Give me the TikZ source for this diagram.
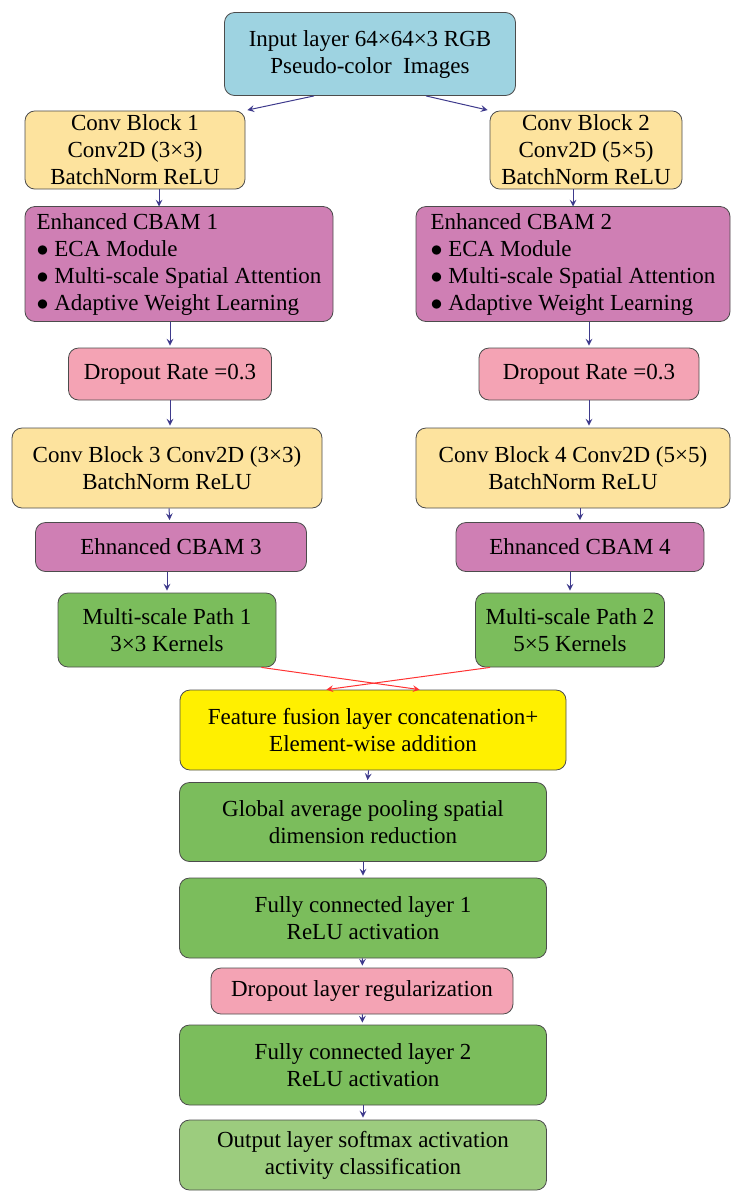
\documentclass[tikz,border=0pt]{standalone}
\usepackage{fontspec}
\setmainfont{Liberation Serif}
\usetikzlibrary{positioning}
\definecolor{cblue}{HTML}{9ED3E1}
\definecolor{cyel}{HTML}{FDE39E}
\definecolor{cpur}{HTML}{CF7FB4}
\definecolor{cpink}{HTML}{F4A3B4}
\definecolor{cgreen}{HTML}{7BBD5C}
\definecolor{cfuse}{HTML}{FFF000}
\definecolor{cout}{HTML}{9CCC7E}
\definecolor{carrow}{HTML}{3E3A8C}
\tikzset{
  box/.style={draw=black!70,fill=#1,rounded corners=5pt,align=center,inner sep=2pt,
    font=\fontsize{11.5}{13.5}\selectfont},
  arr/.style={->,>=stealth,draw=carrow,line width=0.5pt,shorten >=1pt},
  redarr/.style={->,>=stealth,draw=red!80,line width=0.5pt},
}
\begin{document}
\begin{tikzpicture}[x=0.5pt,y=-0.5pt]
\useasboundingbox (0,0) rectangle (744,1200);
% top
\node[box=cblue,minimum width=145.5pt,minimum height=41.5pt] (in) at (370,54) {Input layer 64×64×3 RGB\\Pseudo-color\ \ Images};
% left branch
\node[box=cyel,minimum width=110pt,minimum height=38pt] (cb1) at (135,150) {Conv Block 1\\Conv2D (3×3)\\BatchNorm ReLU};
\node[box=cpur,minimum width=154pt,minimum height=57.5pt,align=left] (eca1) at (179,264) {Enhanced CBAM 1\\$\bullet$ ECA Module\\$\bullet$ Multi-scale Spatial Attention\\$\bullet$ Adaptive Weight Learning};
\node[box=cpink,minimum width=101.5pt,minimum height=26pt] (dp1) at (170,374) {Dropout Rate =0.3};
\node[box=cyel,minimum width=155pt,minimum height=40pt] (cb3) at (167,468) {Conv Block 3 Conv2D (3×3)\\BatchNorm ReLU};
\node[box=cpur,minimum width=135.5pt,minimum height=24.5pt] (eca3) at (171,547) {Ehnanced CBAM 3};
\node[box=cgreen,minimum width=109pt,minimum height=37pt] (ms1) at (167,630) {Multi-scale Path 1\\3×3 Kernels};
% right branch
\node[box=cyel,minimum width=96pt,minimum height=38pt] (cb2) at (586,150) {Conv Block 2\\Conv2D (5×5)\\BatchNorm ReLU};
\node[box=cpur,minimum width=157pt,minimum height=57.5pt,align=left] (eca2) at (573,264) {Enhanced CBAM 2\\$\bullet$ ECA Module\\$\bullet$ Multi-scale Spatial Attention\\$\bullet$ Adaptive Weight Learning};
\node[box=cpink,minimum width=110pt,minimum height=26pt] (dp2) at (589,374) {Dropout Rate =0.3};
\node[box=cyel,minimum width=157pt,minimum height=40pt] (cb4) at (573,468) {Conv Block 4 Conv2D (5×5)\\BatchNorm ReLU};
\node[box=cpur,minimum width=124pt,minimum height=24.5pt] (eca4) at (580,547) {Ehnanced CBAM 4};
\node[box=cgreen,minimum width=94.5pt,minimum height=37pt] (ms2) at (570,630) {Multi-scale Path 2\\5×5 Kernels};
% merged trunk
\node[box=cfuse,minimum width=193pt,minimum height=40pt] (fuse) at (373,730) {Feature fusion layer concatenation+\\Element-wise addition};
\node[box=cgreen,minimum width=183.5pt,minimum height=39.5pt] (gap) at (363,822) {Global average pooling spatial\\dimension reduction};
\node[box=cgreen,minimum width=183.5pt,minimum height=40pt] (fc1) at (363,918) {Fully connected layer 1\\ReLU activation};
\node[box=cpink,minimum width=151pt,minimum height=23pt] (dpl) at (362,991) {Dropout layer regularization};
\node[box=cgreen,minimum width=183.5pt,minimum height=40pt] (fc2) at (363,1065) {Fully connected layer 2\\ReLU activation};
\node[box=cout,minimum width=183.5pt,minimum height=35pt] (out) at (363,1155) {Output layer softmax activation\\activity classification};
% arrows
\draw[arr] (in.south west)++(90,0) -- (cb1.north east);
\draw[arr] (in.south east)++(-90,0) -- (cb2.north west);
\draw[arr] (cb1.south-|eca1.north) ++(-20,0) -- ++(0,19);
\draw[arr] (eca1.south-|dp1.north) -- (dp1);
\draw[arr] (dp1) -- (cb3.north-|dp1);
\draw[arr] (cb3) -- (eca3);
\draw[arr] (eca3.south-|ms1.north) -- (ms1);
\draw[arr] (cb2.south) ++(-13,0) -- ++(0,19);
\draw[arr] (eca2.south-|dp2.north) -- (dp2);
\draw[arr] (dp2) -- (cb4.north-|dp2);
\draw[arr] (cb4.south-|eca4.north) -- (eca4);
\draw[arr] (eca4.south-|ms2.north) -- (ms2);
\draw[redarr] (ms1.south east)++(-15,0) -- ([xshift=120]fuse.north west);
\draw[redarr] (ms2.south west)++(15,0) -- ([xshift=-120]fuse.north east);
\draw[arr] (fuse) -- (gap);
\draw[arr] (gap) -- (fc1);
\draw[arr] (fc1) -- (dpl);
\draw[arr] (dpl) -- (fc2);
\draw[arr] (fc2) -- (out);
\end{tikzpicture}
\end{document}
